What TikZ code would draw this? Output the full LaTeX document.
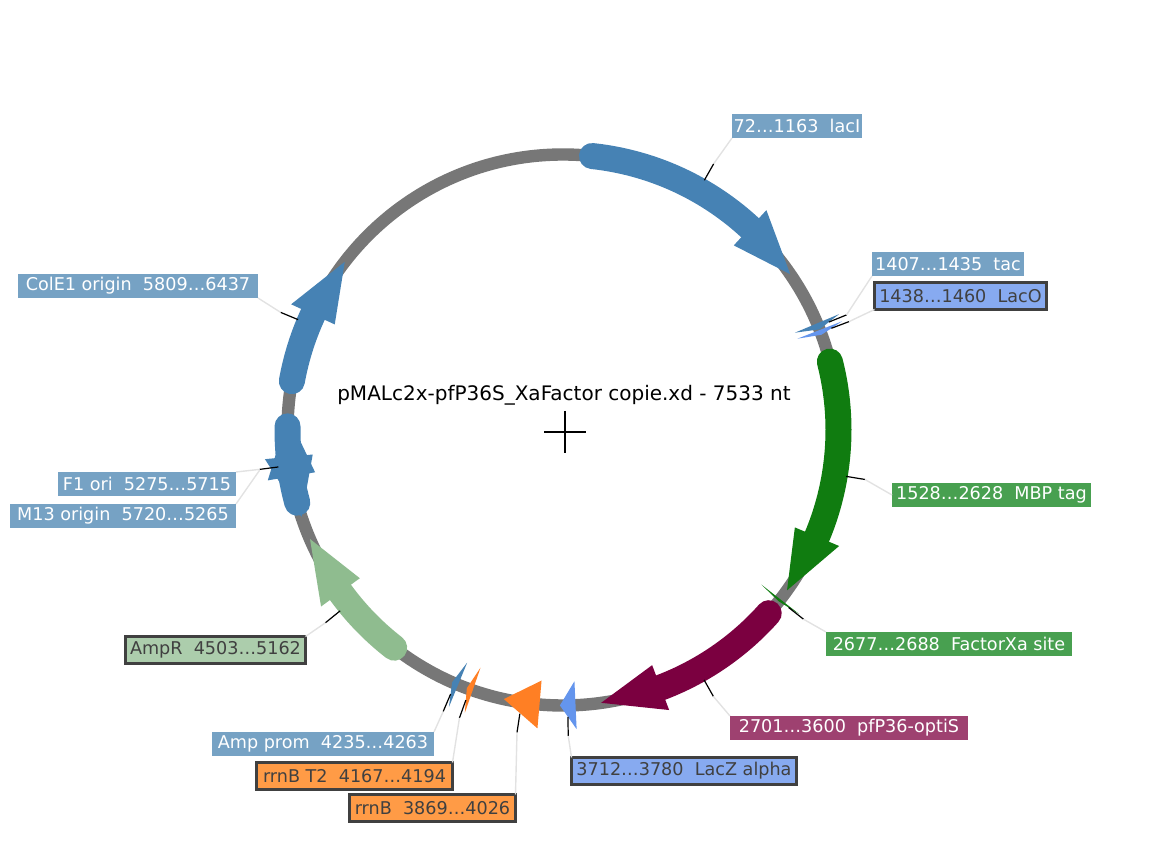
\documentclass[tikz,border=0pt]{standalone}
\usepackage{fontspec}
\setmainfont{DejaVu Sans}
\definecolor{ringgray}{RGB}{119,119,119}
\definecolor{steel}{RGB}{70,130,180}
\definecolor{cornflower}{RGB}{100,149,237}
\definecolor{darkgreen}{RGB}{16,124,16}
\definecolor{maroon}{RGB}{123,0,64}
\definecolor{sage}{RGB}{143,188,143}
\definecolor{tangerine}{RGB}{255,127,36}
\definecolor{steellbl}{RGB}{118,162,196}
\definecolor{cornlbl}{RGB}{135,170,240}
\definecolor{greenlbl}{RGB}{72,160,80}
\definecolor{maroonlbl}{RGB}{158,65,112}
\definecolor{sagelbl}{RGB}{172,205,172}
\definecolor{orangelbl}{RGB}{255,155,70}
\definecolor{framegray}{RGB}{64,64,64}
\definecolor{fadegray}{RGB}{226,226,226}
\tikzset{
  lbl/.style={anchor=north west,inner sep=0pt,outer sep=0pt,text=white,font=\fontsize{8.8}{10}\selectfont},
  lblframe/.style={lbl,draw=framegray,line width=1.2pt,text=framegray},
  leadin/.style={black,line width=0.6pt},
  leadout/.style={fadegray,line width=0.7pt}
}
\newcommand{\genearrow}[3]{
  \pgfmathsetmacro\angS{#1/7533*360-90}
  \pgfmathsetmacro\angE{#2/7533*360-90}
  \pgfmathsetmacro\dirn{ifthenelse(#2>#1,1,-1)}
  \pgfmathsetmacro\angB{\angE-12.8*\dirn}
  \pgfmathsetmacro\angC{\angS+2.6*\dirn}
  \draw[#3,line width=13pt,line cap=round] plot[domain=\angC:\angB,samples=40] (\x:275.5);
  \fill[#3] (\angB:299.5) -- (\angE:275.5) -- (\angB:251.5) -- cycle;
}
\newcommand{\genetip}[3]{
  \pgfmathsetmacro\angS{#1/7533*360-90}
  \pgfmathsetmacro\angE{#2/7533*360-90}
  \fill[#3] (\angS:299.5) -- (\angE:275.5) -- (\angS:251.5) -- cycle;
}
\newcommand{\knee}[2]{
  \coordinate (#1a) at (#2/7533*360-90:287);
  \coordinate (#1b) at (#2/7533*360-90:306);
}
\begin{document}
\begin{tikzpicture}[x=0.5pt,y=-0.5pt]
	\useasboundingbox (0,0) rectangle (1152,854);
	\begin{scope}[shift={(563,430)}]
		\draw[ringgray,line width=6.2pt] (0,0) circle (275.5);
		\genearrow{72}{1163}{steel}
		\genetip{1407}{1435}{steel}
		\genetip{1438}{1460}{cornflower}
		\genearrow{1528}{2628}{darkgreen}
		\genetip{2677}{2688}{darkgreen}
		\genearrow{2701}{3600}{maroon}
		\genetip{3712}{3780}{cornflower}
		\genetip{3869}{4026}{tangerine}
		\genetip{4167}{4194}{tangerine}
		\genetip{4235}{4263}{steel}
		\genearrow{4503}{5162}{sage}
		\genearrow{5720}{5265}{steel}
		\genearrow{5275}{5715}{steel}
		\genearrow{5809}{6437}{steel}
		\knee{lacI}{617.5}
		\knee{tac}{1421}
		\knee{lacO}{1449}
		\knee{mbp}{2078}
		\knee{xa}{2682.5}
		\knee{opti}{3150.5}
		\knee{lacZ}{3746}
		\knee{rrnB}{3947.5}
		\knee{rrnT}{4180.5}
		\knee{amp}{4249}
		\knee{ampR}{4832.5}
		\knee{fOri}{5495}
		\knee{mOri}{5492}
		\knee{cole}{6123}
	\end{scope}
	\node[font=\fontsize{10}{12}\selectfont] (title) at (564,395) {pMALc2x-pfP36S\_XaFactor copie.xd - 7533 nt};
	\coordinate (crossW) at (544,432);
	\coordinate (crossE) at (586,432);
	\coordinate (crossN) at (565,411);
	\coordinate (crossS) at (565,453);
	\draw[black,line width=0.6pt] (crossW) -- (crossE);
	\draw[black,line width=0.6pt] (crossN) -- (crossS);
	\node[lbl,fill=steellbl,minimum width=65pt,minimum height=12pt] (lacI) at (732,114) {72…1163~~lacI};
	\node[lbl,fill=steellbl,minimum width=76pt,minimum height=12pt] (tac) at (872,252) {1407…1435~~tac};
	\node[lblframe,fill=cornlbl,minimum width=86pt,minimum height=13.5pt] (lacO) at (874.5,282.5) {1438…1460~~LacO};
	\node[lbl,fill=greenlbl,minimum width=99.5pt,minimum height=12pt] (mbp) at (892,483) {1528…2628~~MBP tag};
	\node[lbl,fill=greenlbl,minimum width=123pt,minimum height=12pt] (xa) at (826,632) {2677…2688~~FactorXa site};
	\node[lbl,fill=maroonlbl,minimum width=119pt,minimum height=12pt] (opti) at (730,716) {2701…3600~~pfP36-optiS};
	\node[lblframe,fill=cornlbl,minimum width=112.5pt,minimum height=13.5pt] (lacZ) at (571.5,757.5) {3712…3780~~LacZ alpha};
	\node[lblframe,fill=orangelbl,minimum width=83pt,minimum height=13.5pt] (rrnB) at (349.5,794.5) {rrnB~~3869…4026};
	\node[lblframe,fill=orangelbl,minimum width=98pt,minimum height=13.5pt] (rrnT) at (256.5,762.5) {rrnB T2~~4167…4194};
	\node[lbl,fill=steellbl,minimum width=111pt,minimum height=12pt] (amp) at (212,732) {Amp prom~~4235…4263};
	\node[lblframe,fill=sagelbl,minimum width=90pt,minimum height=13.5pt] (ampR) at (125.5,636.5) {AmpR~~4503…5162};
	\node[lbl,fill=steellbl,minimum width=89pt,minimum height=12pt] (fOri) at (58,472) {F1 ori~~5275…5715};
	\node[lbl,fill=steellbl,minimum width=113pt,minimum height=12pt] (mOri) at (10,504) {M13 origin~~5720…5265};
	\node[lbl,fill=steellbl,minimum width=120pt,minimum height=12pt] (cole) at (18,274) {ColE1 origin~~5809…6437};
	\draw[leadin] (lacIa) -- (lacIb);
	\draw[leadout] (lacIb) -- (lacI.south west);
	\draw[leadin] (taca) -- (tacb);
	\draw[leadout] (tacb) -- (tac.south west);
	\draw[leadin] (lacOa) -- (lacOb);
	\draw[leadout] (lacOb) -- (lacO.south west);
	\draw[leadin] (mbpa) -- (mbpb);
	\draw[leadout] (mbpb) -- (mbp.west);
	\draw[leadin] (xaa) -- (xab);
	\draw[leadout] (xab) -- (xa.north west);
	\draw[leadin] (optia) -- (optib);
	\draw[leadout] (optib) -- (opti.north west);
	\draw[leadin] (lacZa) -- (lacZb);
	\draw[leadout] (lacZb) -- (lacZ.north west);
	\draw[leadin] (rrnBa) -- (rrnBb);
	\draw[leadout] (rrnBb) -- (rrnB.north east);
	\draw[leadin] (rrnTa) -- (rrnTb);
	\draw[leadout] (rrnTb) -- (rrnT.north east);
	\draw[leadin] (ampa) -- (ampb);
	\draw[leadout] (ampb) -- (amp.north east);
	\draw[leadin] (ampRa) -- (ampRb);
	\draw[leadout] (ampRb) -- (ampR.north east);
	\draw[leadin] (fOria) -- (fOrib);
	\draw[leadout] (fOrib) -- (fOri.north east);
	\draw[leadout] (mOrib) -- (mOri.north east);
	\draw[leadin] (colea) -- (coleb);
	\draw[leadout] (coleb) -- (cole.south east);
\end{tikzpicture}
\end{document}
